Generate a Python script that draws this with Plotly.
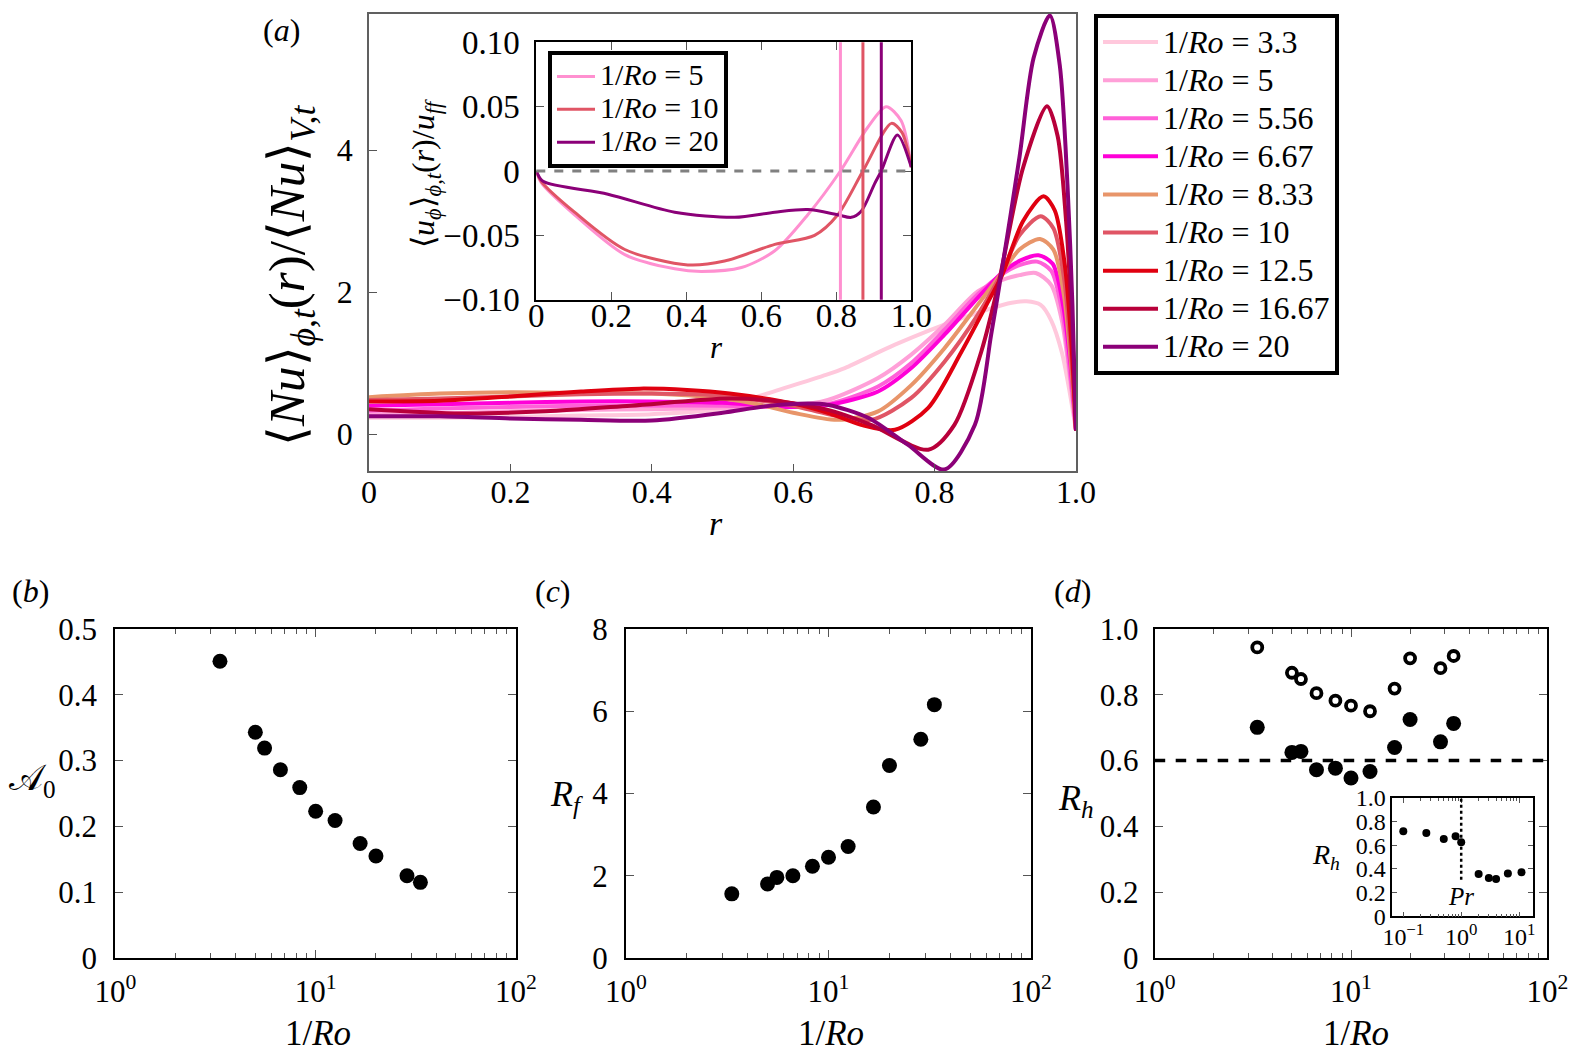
import plotly.graph_objects as go

W, H = 1579, 1054
FONT = "Liberation Serif, Times New Roman, serif"

# ---- panel (a): Nu profiles ----
ro_labels = ["3.3", "5", "5.56", "6.67", "8.33", "10", "12.5", "16.67", "20"]
ro_colors = ["#ffc8dc", "#ffa0d8", "#ff60d8", "#ff00d8", "#e8956a",
             "#e05565", "#e00010", "#b8003a", "#8b0078"]

r_33 = [0, 0.1, 0.2, 0.3, 0.4, 0.5, 0.557, 0.642, 0.673, 0.744, 0.838, 0.909, 0.93, 0.95, 0.965, 0.98, 0.99, 1.0]
nu_33 = [0.23, 0.23, 0.24, 0.26, 0.28, 0.36, 0.55, 0.82, 0.93, 1.26, 1.63, 1.85, 1.87, 1.82, 1.6, 1.15, 0.65, 0.05]
r_5 = [0, 0.1, 0.2, 0.3, 0.4, 0.5, 0.6, 0.649, 0.72, 0.767, 0.814, 0.861, 0.895, 0.92, 0.943, 0.965, 0.98, 0.99, 1.0]
nu_5 = [0.28, 0.29, 0.32, 0.34, 0.35, 0.37, 0.40, 0.48, 0.79, 1.12, 1.54, 2.01, 2.17, 2.24, 2.27, 2.1, 1.6, 0.9, 0.05]
r_556 = [0, 0.1, 0.2, 0.3, 0.4, 0.5, 0.6, 0.649, 0.72, 0.767, 0.814, 0.861, 0.895, 0.92, 0.945, 0.965, 0.98, 0.99, 1.0]
nu_556 = [0.33, 0.36, 0.38, 0.40, 0.40, 0.40, 0.38, 0.42, 0.67, 1.0, 1.47, 1.97, 2.25, 2.38, 2.43, 2.3, 1.75, 1.0, 0.05]
r_667 = [0, 0.1, 0.2, 0.3, 0.4, 0.5, 0.6, 0.649, 0.72, 0.767, 0.814, 0.861, 0.895, 0.92, 0.947, 0.967, 0.982, 0.992, 1.0]
nu_667 = [0.40, 0.42, 0.44, 0.46, 0.46, 0.44, 0.38, 0.41, 0.60, 0.93, 1.40, 1.92, 2.27, 2.44, 2.52, 2.4, 1.8, 1.0, 0.05]
r_833 = [0, 0.1, 0.2, 0.3, 0.4, 0.5, 0.55, 0.6, 0.663, 0.72, 0.767, 0.814, 0.861, 0.895, 0.92, 0.949, 0.968, 0.983, 0.992, 1.0]
nu_833 = [0.52, 0.57, 0.59, 0.58, 0.57, 0.50, 0.42, 0.30, 0.20, 0.32, 0.69, 1.21, 1.82, 2.27, 2.6, 2.75, 2.6, 1.95, 1.1, 0.05]
r_10 = [0, 0.1, 0.2, 0.3, 0.4, 0.5, 0.6, 0.65, 0.71, 0.767, 0.814, 0.861, 0.895, 0.92, 0.95, 0.968, 0.983, 0.992, 1.0]
nu_10 = [0.48, 0.50, 0.53, 0.56, 0.57, 0.54, 0.40, 0.28, 0.20, 0.51, 1.02, 1.68, 2.27, 2.8, 3.07, 2.9, 2.2, 1.25, 0.05]
r_125 = [0, 0.1, 0.2, 0.3, 0.383, 0.45, 0.51, 0.6, 0.649, 0.696, 0.744, 0.791, 0.838, 0.876, 0.895, 0.925, 0.954, 0.97, 0.984, 0.993, 1.0]
nu_125 = [0.46, 0.47, 0.53, 0.60, 0.64, 0.62, 0.57, 0.43, 0.30, 0.13, 0.06, 0.37, 1.16, 1.87, 2.23, 3.0, 3.35, 3.15, 2.4, 1.35, 0.05]
r_1667 = [0, 0.13, 0.25, 0.37, 0.51, 0.58, 0.649, 0.71, 0.791, 0.828, 0.866, 0.89, 0.925, 0.959, 0.974, 0.986, 0.994, 1.0]
nu_1667 = [0.35, 0.29, 0.32, 0.40, 0.50, 0.46, 0.34, 0.13, -0.22, 0.13, 1.16, 2.10, 3.75, 4.62, 4.2, 3.0, 1.6, 0.05]
r_20 = [0, 0.1, 0.2, 0.3, 0.4, 0.5, 0.56, 0.62, 0.65, 0.706, 0.762, 0.814, 0.857, 0.88, 0.894, 0.92, 0.94, 0.963, 0.977, 0.988, 0.995, 1.0]
nu_20 = [0.25, 0.25, 0.22, 0.20, 0.19, 0.30, 0.39, 0.43, 0.41, 0.23, -0.15, -0.50, 0.13, 1.40, 2.24, 3.9, 5.3, 5.9, 5.2, 3.5, 1.8, 0.05]

nu_r = [r_33, r_5, r_556, r_667, r_833, r_10, r_125, r_1667, r_20]
nu_vals = [nu_33, nu_5, nu_556, nu_667, nu_833, nu_10, nu_125, nu_1667, nu_20]

# ---- inset (a): azimuthal velocity ----
ins_labels = ["5", "10", "20"]
ins_colors = ["#ff90d0", "#e05565", "#8b0078"]
ins_r5 = [0, 0.013, 0.102, 0.236, 0.369, 0.44, 0.547, 0.636, 0.724, 0.811, 0.884, 0.933, 0.973, 1.0]
ins_u5 = [0, -0.009, -0.034, -0.065, -0.076, -0.078, -0.075, -0.062, -0.034, 0.0, 0.034, 0.050, 0.039, 0.003]
ins_r10 = [0, 0.013, 0.102, 0.236, 0.404, 0.502, 0.636, 0.742, 0.804, 0.871, 0.947, 0.975, 1.0]
ins_u10 = [0, -0.008, -0.032, -0.061, -0.073, -0.070, -0.057, -0.050, -0.034, 0.0, 0.037, 0.030, 0.003]
ins_r20 = [0, 0.018, 0.191, 0.369, 0.529, 0.636, 0.724, 0.804, 0.84, 0.867, 0.902, 0.92, 0.963, 1.0]
ins_u20 = [0, -0.008, -0.018, -0.032, -0.036, -0.032, -0.030, -0.034, -0.036, -0.031, -0.010, 0.0, 0.028, 0.003]
ins_r = [ins_r5, ins_r10, ins_r20]
ins_u = [ins_u5, ins_u10, ins_u20]
zero_cross = [0.811, 0.871, 0.92]

# ---- panels (b)-(d) ----
inv_ro = [3.33, 5, 5.56, 6.67, 8.33, 10, 12.5, 16.67, 20, 28.57, 33.33]
a0 = [0.451, 0.343, 0.319, 0.286, 0.259, 0.223, 0.209, 0.174, 0.155, 0.125, 0.115]
rf = [1.56, 1.80, 1.96, 2.00, 2.23, 2.45, 2.71, 3.67, 4.68, 5.32, 6.16]
rh_open = [0.944, 0.867, 0.848, 0.805, 0.782, 0.767, 0.750, 0.819, 0.911, 0.881, 0.918]
rh_fill = [0.701, 0.625, 0.628, 0.572, 0.577, 0.547, 0.567, 0.640, 0.725, 0.657, 0.713]
rh_ref = 0.6

pr = [0.1, 0.25, 0.5, 0.8, 1, 2, 3, 4, 6.4, 11]
rh_pr = [0.718, 0.704, 0.654, 0.676, 0.625, 0.358, 0.324, 0.315, 0.361, 0.372]


def leg_name(val, size):
    return "<span style='font-size:%dpx'>1/<i>Ro</i> = %s</span>" % (size, val)


def xd(a, b):
    return [a / W, b / W]


def yd(top, bottom):
    return [1 - bottom / H, 1 - top / H]


fig = go.Figure()

for lab, col, rr, vv in zip(ro_labels, ro_colors, nu_r, nu_vals):
    fig.add_trace(go.Scatter(x=rr, y=vv, mode="lines", name=leg_name(lab, 32),
                             line=dict(color=col, width=4, shape="spline", smoothing=0.8),
                             xaxis="x", yaxis="y", legend="legend"))

for lab, col, rr, uu in zip(ins_labels, ins_colors, ins_r, ins_u):
    fig.add_trace(go.Scatter(x=rr, y=uu, mode="lines", name=leg_name(lab, 30),
                             line=dict(color=col, width=3, shape="spline", smoothing=0.8),
                             xaxis="x2", yaxis="y2", legend="legend2"))

dot = dict(color="black", size=15)
fig.add_trace(go.Scatter(x=inv_ro, y=a0, mode="markers", marker=dot,
                         xaxis="x3", yaxis="y3", showlegend=False))
fig.add_trace(go.Scatter(x=inv_ro, y=rf, mode="markers", marker=dot,
                         xaxis="x4", yaxis="y4", showlegend=False))
fig.add_trace(go.Scatter(x=inv_ro, y=rh_fill, mode="markers", marker=dot,
                         xaxis="x5", yaxis="y5", showlegend=False))
fig.add_trace(go.Scatter(x=inv_ro, y=rh_open, mode="markers",
                         marker=dict(symbol="circle-open", color="black", size=10,
                                     line=dict(width=3.8)),
                         xaxis="x5", yaxis="y5", showlegend=False))
fig.add_trace(go.Scatter(x=pr, y=rh_pr, mode="markers", marker=dict(color="black", size=8),
                         xaxis="x6", yaxis="y6", showlegend=False))

shapes = []
shapes.append(dict(type="line", xref="x2 domain", yref="y2", x0=0, x1=1, y0=0, y1=0,
                   line=dict(color="#808080", width=3, dash="dash")))
for zc, col in zip(zero_cross, ins_colors):
    shapes.append(dict(type="line", xref="x2", yref="y2 domain", x0=zc, x1=zc, y0=0, y1=1,
                       line=dict(color=col, width=3)))
shapes.append(dict(type="line", xref="x5 domain", yref="y5", x0=0, x1=1, y0=rh_ref, y1=rh_ref,
                   line=dict(color="black", width=3.5, dash="dash")))
shapes.append(dict(type="line", xref="x6", yref="y6", x0=1, x1=1, y0=0.31, y1=1.0,
                   line=dict(color="black", width=2.5, dash="dot")))


def tf(size):
    return dict(family=FONT, size=size, color="black")


def frame(**kw):
    d = dict(showline=True, linecolor="black", linewidth=2, mirror="ticks",
             ticks="inside", ticklen=8, tickcolor="#555", showgrid=False,
             zeroline=False, tickfont=tf(31))
    d.update(kw)
    return d


dec_vals = [1, 10, 100]
dec_text = ["10<sup>0</sup>", "10<sup>1</sup>", "10<sup>2</sup>"]
minor_vals = [m * 10 ** k for k in range(0, 2) for m in range(2, 10)]
log_x = dict(type="log", range=[0, 2], tickvals=dec_vals, ticktext=dec_text, ticklabelstandoff=5,
             minor=dict(ticks="inside", ticklen=5, tickcolor="#555", tickvals=minor_vals))

fig.update_layout(
    width=W, height=H, margin=dict(l=0, r=0, t=0, b=0, autoexpand=False),
    paper_bgcolor="white", plot_bgcolor="rgba(0,0,0,0)",
    font=dict(family=FONT, color="black"),
    shapes=shapes,
    xaxis=frame(domain=xd(361, 1068), range=[0, 1], anchor="y",
                tickvals=[0, 0.2, 0.4, 0.6, 0.8, 1.0],
                ticktext=["0", "0.2", "0.4", "0.6", "0.8", "1.0"], ticklabelstandoff=-8,
                linecolor="#606060", linewidth=1.5, mirror=True, tickfont=tf(32)),
    yaxis=frame(domain=yd(6, 463.3), range=[-0.525, 5.92], anchor="x",
                tickvals=[0, 2, 4], ticktext=["0", "2", "4"], ticklabelstandoff=8,
                linecolor="#606060", linewidth=1.5, mirror=True, tickfont=tf(32)),
    xaxis2=frame(domain=xd(528.3, 903.3), range=[0, 1], anchor="y2",
                 tickvals=[0, 0.2, 0.4, 0.6, 0.8, 1.0], ticklabelstandoff=-14,
                 ticktext=["0", "0.2", "0.4", "0.6", "0.8", "1.0"], tickfont=tf(33)),
    yaxis2=frame(domain=yd(34.3, 291.7), range=[-0.1, 0.1], anchor="x2",
                 tickvals=[-0.1, -0.05, 0, 0.05, 0.1], ticklabelstandoff=8,
                 ticktext=["\u22120.10", "\u22120.05", "0", "0.05", "0.10"], tickfont=tf(33)),
    xaxis3=frame(domain=xd(107.3, 508), anchor="y3", **log_x),
    yaxis3=frame(domain=yd(621, 950), range=[0, 0.5], anchor="x3", ticklabelstandoff=10,
                 tickvals=[0, 0.1, 0.2, 0.3, 0.4, 0.5],
                 ticktext=["0", "0.1", "0.2", "0.3", "0.4", "0.5"]),
    xaxis4=frame(domain=xd(618, 1023), anchor="y4", **log_x),
    yaxis4=frame(domain=yd(621, 950), range=[0, 8], anchor="x4", ticklabelstandoff=10,
                 tickvals=[0, 2, 4, 6, 8], ticktext=["0", "2", "4", "6", "8"]),
    xaxis5=frame(domain=xd(1146.7, 1539.3), anchor="y5", **log_x),
    yaxis5=frame(domain=yd(621, 950), range=[0, 1], anchor="x5", ticklabelstandoff=8,
                 tickvals=[0, 0.2, 0.4, 0.6, 0.8, 1.0],
                 ticktext=["0", "0.2", "0.4", "0.6", "0.8", "1.0"]),
    xaxis6=frame(domain=xd(1384.3, 1525), anchor="y6", type="log", range=[-1.19, 1.24],
                 tickvals=[0.1, 1, 10], ticktext=["10<sup>\u22121</sup>", "10<sup>0</sup>", "10<sup>1</sup>"],
                 ticklen=5, linewidth=1.5, ticklabelstandoff=-2,
                 minor=dict(ticks="inside", ticklen=3, tickcolor="#555",
                            tickvals=[m * 10 ** k for k in (-1, 0, 1) for m in range(2, 10)]),
                 tickfont=tf(24)),
    yaxis6=frame(domain=yd(790, 908.3), range=[0, 1], anchor="x6",
                 tickvals=[0, 0.2, 0.4, 0.6, 0.8, 1.0],
                 ticktext=["0", "0.2", "0.4", "0.6", "0.8", "1.0"],
                 ticklen=5, linewidth=1.5, tickfont=tf(24)),
    legend=dict(x=1086 / W, y=1 - 6 / H, xanchor="left", yanchor="top",
                bordercolor="black", borderwidth=4, bgcolor="white",
                font=tf(27), itemwidth=55, tracegroupgap=0),
    legend2=dict(x=540 / W, y=1 - 43 / H, xanchor="left", yanchor="top",
                 bordercolor="black", borderwidth=4, bgcolor="white",
                 font=tf(23), itemwidth=38, tracegroupgap=0),
)


def note(x, y, text, size, angle=0):
    fig.add_annotation(x=x / W, y=1 - y / H, xref="paper", yref="paper", text=text,
                       showarrow=False, textangle=angle, xanchor="center", yanchor="middle",
                       font=tf(size))


note(273, 22, "(<i>a</i>)", 32)
note(22, 583, "(<i>b</i>)", 32)
note(545, 583, "(<i>c</i>)", 32)
note(1064, 583, "(<i>d</i>)", 32)
note(283, 268, "\u27e8<i>Nu</i>\u27e9<sub><i>\u03d5,t</i></sub>(<i>r</i>)/\u27e8<i>Nu</i>\u27e9<sub><i>V,t</i></sub>", 51, -90)
note(708, 516, "<i>r</i>", 34)
note(418, 166, "\u27e8<i>u<sub>\u03d5</sub></i>\u27e9<sub><i>\u03d5,t</i></sub>(<i>r</i>)/<i>u<sub>ff</sub></i>", 32, -90)
note(708, 340, "<i>r</i>", 31)
note(24, 772, "\U0001D49C<sub>0</sub>", 36)
note(558, 788, "<i>R<sub>f</sub></i>", 36)
note(1068, 792, "<i>R<sub>h</sub></i>", 36)
note(310, 1025, "1/<i>Ro</i>", 35)
note(823, 1025, "1/<i>Ro</i>", 35)
note(1348, 1025, "1/<i>Ro</i>", 35)
note(1318, 848, "<i>R<sub>h</sub></i>", 28)
note(1453, 888, "<i>Pr</i>", 25)

fig.write_html("out.html")
